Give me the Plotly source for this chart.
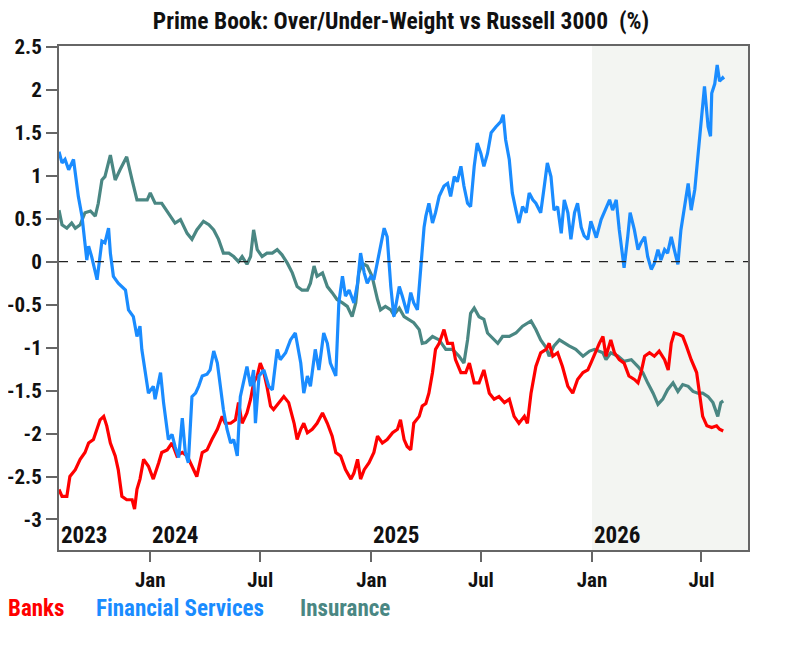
import plotly.graph_objects as go

# ---------------- data ----------------
fs_dates = ["2023-08-03","2023-08-08","2023-08-13","2023-08-19","2023-08-27","2023-08-30","2023-09-04","2023-09-10","2023-09-15","2023-09-18","2023-09-21","2023-09-26","2023-10-05","2023-10-13","2023-10-18","2023-10-24","2023-10-27","2023-11-01","2023-11-09","2023-11-21","2023-11-26","2023-12-04","2023-12-10","2023-12-15","2023-12-18","2023-12-24","2023-12-29","2024-01-06","2024-01-09","2024-01-18","2024-01-23","2024-01-31","2024-02-06","2024-02-11","2024-02-17","2024-02-23","2024-02-28","2024-03-04","2024-03-10","2024-03-16","2024-03-21","2024-03-27","2024-04-04","2024-04-09","2024-04-15","2024-04-21","2024-04-26","2024-05-01","2024-05-07","2024-05-13","2024-05-18","2024-05-24","2024-05-29","2024-06-04","2024-06-09","2024-06-15","2024-06-20","2024-06-23","2024-06-29","2024-07-07","2024-07-15","2024-07-21","2024-07-29","2024-08-03","2024-08-12","2024-08-20","2024-08-28","2024-09-06","2024-09-11","2024-09-17","2024-09-22","2024-09-30","2024-10-06","2024-10-14","2024-10-20","2024-10-25","2024-11-03","2024-11-08","2024-11-14","2024-11-19","2024-11-25","2024-12-03","2024-12-09","2024-12-14","2024-12-20","2024-12-25","2024-12-31","2025-01-05","2025-01-13","2025-01-22","2025-01-27","2025-02-02","2025-02-07","2025-02-16","2025-02-21","2025-03-01","2025-03-07","2025-03-12","2025-03-18","2025-03-24","2025-03-29","2025-04-01","2025-04-06","2025-04-12","2025-04-17","2025-04-23","2025-05-01","2025-05-07","2025-05-12","2025-05-18","2025-05-23","2025-05-29","2025-06-03","2025-06-09","2025-06-14","2025-06-20","2025-06-25","2025-07-01","2025-07-06","2025-07-12","2025-07-18","2025-07-26","2025-08-03","2025-08-07","2025-08-11","2025-08-17","2025-08-22","2025-08-28","2025-09-02","2025-09-08","2025-09-14","2025-09-19","2025-09-25","2025-09-30","2025-10-08","2025-10-14","2025-10-19","2025-10-25","2025-10-30","2025-11-05","2025-11-11","2025-11-16","2025-11-22","2025-11-27","2025-12-03","2025-12-08","2025-12-14","2025-12-19","2025-12-25","2025-12-30","2026-01-08","2026-01-16","2026-01-21","2026-01-30","2026-02-04","2026-02-10","2026-02-15","2026-02-21","2026-02-23","2026-03-01","2026-03-05","2026-03-12","2026-03-18","2026-03-23","2026-03-29","2026-04-03","2026-04-09","2026-04-14","2026-04-20","2026-04-25","2026-05-01","2026-05-06","2026-05-12","2026-05-17","2026-05-23","2026-05-28","2026-06-03","2026-06-09","2026-06-14","2026-06-20","2026-06-25","2026-07-01","2026-07-06","2026-07-12","2026-07-16","2026-07-18","2026-07-23","2026-07-27","2026-07-31","2026-08-05","2026-08-07"]
fs_values = [1.28,1.15,1.19,1.07,1.19,1.01,0.76,0.53,0.22,0.02,0.18,0.06,-0.21,0.24,0.22,0.39,0.10,-0.17,-0.25,-0.33,-0.56,-0.64,-0.87,-0.75,-1.02,-1.33,-1.53,-1.45,-1.60,-1.29,-1.64,-2.07,-2.01,-2.15,-2.28,-1.82,-2.22,-2.34,-1.57,-1.53,-1.45,-1.33,-1.31,-1.26,-1.04,-1.18,-1.45,-1.72,-1.95,-2.11,-2.07,-2.26,-1.57,-1.37,-1.22,-1.45,-1.26,-1.88,-1.33,-1.26,-1.45,-1.49,-1.02,-1.14,-1.06,-0.91,-0.83,-1.18,-1.53,-1.33,-1.45,-1.02,-1.26,-0.83,-0.95,-1.18,-1.33,-0.48,-0.17,-0.40,-0.33,-0.48,-0.25,0.10,-0.13,-0.25,-0.17,-0.21,0.06,0.39,0.29,-0.29,-0.64,-0.29,-0.40,-0.60,-0.36,-0.48,-0.56,0.00,0.40,0.53,0.68,0.45,0.57,0.76,0.88,0.91,0.76,0.99,0.93,1.11,0.88,0.68,0.64,1.11,1.38,1.26,1.11,1.26,1.50,1.57,1.63,1.71,1.42,1.19,0.80,0.60,0.45,0.64,0.57,0.80,0.72,0.68,0.57,0.88,1.15,0.99,0.60,0.64,0.33,0.72,0.57,0.26,0.57,0.68,0.40,0.30,0.26,0.47,0.28,0.49,0.58,0.72,0.60,0.72,0.37,-0.02,-0.07,0.29,0.57,0.37,0.14,0.22,0.29,0.06,-0.09,-0.02,0.14,0.02,0.14,0.10,0.29,0.14,-0.03,0.37,0.64,0.91,0.60,0.84,1.22,1.69,2.04,1.57,1.46,1.96,2.07,2.29,2.10,2.14,2.12]

ins_dates = ["2023-08-03","2023-08-08","2023-08-16","2023-08-24","2023-08-30","2023-09-07","2023-09-15","2023-09-24","2023-10-02","2023-10-07","2023-10-13","2023-10-18","2023-10-27","2023-11-04","2023-11-12","2023-11-23","2023-12-02","2023-12-10","2023-12-18","2023-12-27","2024-01-01","2024-01-09","2024-01-20","2024-01-31","2024-02-11","2024-02-20","2024-03-02","2024-03-10","2024-03-18","2024-03-29","2024-04-07","2024-04-15","2024-04-23","2024-05-01","2024-05-10","2024-05-18","2024-05-26","2024-06-01","2024-06-09","2024-06-15","2024-06-20","2024-06-26","2024-07-04","2024-07-12","2024-07-21","2024-07-29","2024-08-06","2024-08-15","2024-08-23","2024-08-31","2024-09-08","2024-09-17","2024-09-22","2024-09-28","2024-10-03","2024-10-12","2024-10-20","2024-10-28","2024-11-05","2024-11-14","2024-11-22","2024-11-30","2024-12-06","2024-12-11","2024-12-17","2024-12-25","2025-01-02","2025-01-11","2025-01-16","2025-01-24","2025-02-02","2025-02-07","2025-02-16","2025-02-24","2025-03-04","2025-03-12","2025-03-21","2025-03-26","2025-04-01","2025-04-12","2025-04-23","2025-05-04","2025-05-15","2025-05-26","2025-06-03","2025-06-09","2025-06-14","2025-06-20","2025-06-28","2025-07-06","2025-07-12","2025-07-20","2025-07-29","2025-08-06","2025-08-17","2025-08-28","2025-09-08","2025-09-22","2025-09-30","2025-10-08","2025-10-17","2025-10-22","2025-10-30","2025-11-08","2025-11-16","2025-11-24","2025-12-05","2025-12-17","2025-12-28","2026-01-05","2026-01-19","2026-01-24","2026-02-01","2026-02-13","2026-02-23","2026-03-07","2026-03-18","2026-03-26","2026-04-03","2026-04-12","2026-04-20","2026-04-28","2026-05-06","2026-05-15","2026-05-23","2026-05-31","2026-06-09","2026-06-17","2026-06-25","2026-07-03","2026-07-12","2026-07-20","2026-07-28","2026-08-02","2026-08-06"]
ins_values = [0.60,0.43,0.39,0.45,0.39,0.43,0.57,0.59,0.53,0.68,0.95,0.99,1.24,0.95,1.07,1.22,0.95,0.72,0.72,0.72,0.80,0.68,0.68,0.57,0.45,0.49,0.33,0.26,0.37,0.47,0.43,0.37,0.26,0.10,0.10,0.06,0.00,0.06,-0.03,0.06,0.37,0.14,0.06,0.10,0.10,0.14,0.08,-0.02,-0.13,-0.29,-0.33,-0.33,-0.25,-0.05,-0.17,-0.13,-0.29,-0.36,-0.44,-0.48,-0.52,-0.64,-0.48,-0.13,-0.02,-0.05,-0.17,-0.44,-0.56,-0.52,-0.56,-0.62,-0.54,-0.64,-0.67,-0.71,-0.79,-0.95,-0.94,-0.87,-0.91,-1.02,-1.02,-1.10,-1.18,-0.91,-0.60,-0.54,-0.64,-0.67,-0.83,-0.89,-0.95,-0.87,-0.87,-0.83,-0.75,-0.69,-0.79,-0.91,-1.00,-1.10,-0.98,-0.91,-0.95,-0.98,-1.02,-1.10,-1.04,-1.02,-1.06,-1.14,-1.06,-1.10,-1.16,-1.14,-1.22,-1.29,-1.41,-1.53,-1.66,-1.60,-1.49,-1.41,-1.51,-1.43,-1.45,-1.51,-1.53,-1.53,-1.57,-1.64,-1.80,-1.64,-1.62]

banks_dates = ["2023-08-03","2023-08-08","2023-08-16","2023-08-21","2023-08-30","2023-09-07","2023-09-15","2023-09-21","2023-09-29","2023-10-05","2023-10-10","2023-10-16","2023-10-21","2023-10-27","2023-11-04","2023-11-09","2023-11-15","2023-11-23","2023-12-02","2023-12-06","2023-12-10","2023-12-15","2023-12-21","2023-12-29","2024-01-06","2024-01-15","2024-01-20","2024-01-29","2024-02-06","2024-02-14","2024-02-23","2024-03-02","2024-03-10","2024-03-18","2024-03-27","2024-04-04","2024-04-12","2024-04-21","2024-04-29","2024-05-04","2024-05-13","2024-05-21","2024-05-26","2024-06-01","2024-06-09","2024-06-15","2024-06-20","2024-06-26","2024-07-01","2024-07-07","2024-07-12","2024-07-18","2024-07-23","2024-08-01","2024-08-09","2024-08-17","2024-08-26","2024-08-31","2024-09-06","2024-09-11","2024-09-17","2024-09-25","2024-10-03","2024-10-12","2024-10-20","2024-10-28","2024-11-03","2024-11-11","2024-11-19","2024-11-28","2024-12-03","2024-12-09","2024-12-14","2024-12-20","2024-12-28","2025-01-05","2025-01-11","2025-01-19","2025-01-27","2025-02-05","2025-02-13","2025-02-18","2025-02-24","2025-03-01","2025-03-07","2025-03-12","2025-03-21","2025-03-26","2025-04-01","2025-04-06","2025-04-12","2025-04-17","2025-04-23","2025-05-01","2025-05-07","2025-05-15","2025-05-20","2025-05-29","2025-06-06","2025-06-12","2025-06-20","2025-06-28","2025-07-06","2025-07-15","2025-07-23","2025-07-31","2025-08-09","2025-08-17","2025-08-25","2025-09-02","2025-09-11","2025-09-16","2025-09-22","2025-09-30","2025-10-08","2025-10-17","2025-10-22","2025-10-28","2025-11-05","2025-11-13","2025-11-22","2025-11-30","2025-12-08","2025-12-17","2025-12-25","2025-12-30","2026-01-08","2026-01-13","2026-01-19","2026-01-24","2026-02-01","2026-02-07","2026-02-15","2026-02-23","2026-03-03","2026-03-12","2026-03-18","2026-03-23","2026-03-29","2026-04-06","2026-04-14","2026-04-22","2026-05-01","2026-05-07","2026-05-12","2026-05-17","2026-05-26","2026-05-31","2026-06-06","2026-06-14","2026-06-23","2026-06-28","2026-07-03","2026-07-10","2026-07-18","2026-07-26","2026-07-31","2026-08-06"]
banks_values = [-2.65,-2.73,-2.73,-2.50,-2.42,-2.30,-2.22,-2.11,-2.07,-1.95,-1.84,-1.80,-1.91,-2.11,-2.26,-2.42,-2.73,-2.77,-2.77,-2.88,-2.65,-2.53,-2.30,-2.38,-2.53,-2.34,-2.22,-2.19,-2.11,-2.26,-2.22,-2.26,-2.38,-2.50,-2.22,-2.19,-2.07,-1.95,-1.80,-1.88,-1.88,-1.84,-1.64,-1.88,-1.76,-1.60,-1.41,-1.33,-1.18,-1.29,-1.45,-1.68,-1.72,-1.64,-1.57,-1.64,-1.88,-2.07,-1.95,-1.88,-1.99,-1.95,-1.88,-1.76,-1.88,-2.03,-2.22,-2.26,-2.42,-2.53,-2.46,-2.30,-2.53,-2.42,-2.34,-2.22,-2.03,-2.11,-2.07,-1.99,-1.95,-1.84,-2.07,-2.15,-2.19,-1.88,-1.80,-1.68,-1.65,-1.53,-1.29,-1.02,-0.95,-0.79,-0.95,-0.95,-1.14,-1.29,-1.29,-1.18,-1.41,-1.41,-1.26,-1.53,-1.60,-1.57,-1.64,-1.60,-1.80,-1.88,-1.80,-1.88,-1.53,-1.22,-1.06,-1.02,-0.95,-1.10,-1.06,-1.22,-1.45,-1.53,-1.37,-1.29,-1.26,-1.18,-1.02,-0.95,-0.87,-1.10,-0.91,-1.06,-1.14,-1.18,-1.33,-1.37,-1.41,-1.29,-1.10,-1.06,-1.10,-1.04,-1.14,-1.26,-0.95,-0.83,-0.85,-0.87,-0.98,-1.14,-1.29,-1.53,-1.80,-1.91,-1.93,-1.91,-1.95,-1.97]

series_names = ["Banks", "Financial Services", "Insurance"]
series_colors = ["#ff0000", "#1a8cff", "#4a8783"]

x_range = ["2023-08-03", "2026-09-16"]
shade_start = "2026-01-01"
x_tick_vals = ["2024-01-01", "2024-07-01", "2025-01-01", "2025-07-01", "2026-01-01", "2026-07-01"]
x_tick_text = ["Jan", "Jul", "Jan", "Jul", "Jan", "Jul"]
year_labels = ["2023", "2024", "2025", "2026"]
year_label_dates = ["2023-08-03", "2024-01-01", "2025-01-01", "2026-01-01"]
y_tick_vals = [2.5, 2, 1.5, 1, 0.5, 0, -0.5, -1, -1.5, -2, -2.5, -3]
y_tick_text = ["2.5", "2", "1.5", "1", "0.5", "0", "-0.5", "-1", "-1.5", "-2", "-2.5", "-3"]
y_range = [-3.355, 2.51]

title_text = "Prime Book: Over/Under-Weight vs Russell 3000 \u00a0(%)"

FONT = "Roboto Condensed, Liberation Sans Narrow, Roboto, sans-serif"
FIG_W, FIG_H = 786, 640   # page body adds an 8px margin

# ---------------- figure ----------------
fig = go.Figure()
data = [(banks_dates, banks_values), (fs_dates, fs_values), (ins_dates, ins_values)]
for idx in [2, 0, 1]:
    d, v = data[idx]
    fig.add_trace(go.Scatter(x=d, y=v, mode="lines", name=series_names[idx],
                             line=dict(color=series_colors[idx], width=3.2),
                             hoverinfo="skip"))

fig.add_vrect(x0=shade_start, x1=x_range[1], fillcolor="#f3f5f2", line_width=0, layer="below")
fig.add_hline(y=0, line=dict(color="#222222", width=1.2, dash="dash"), layer="above")

annotations = []
for lab, dt in zip(year_labels, year_label_dates):
    annotations.append(dict(x=dt, y=0.028, xref="x", yref="paper", text="<b>" + lab + "</b>",
                            showarrow=False, xanchor="left", yanchor="middle", xshift=0,
                            font=dict(family=FONT, size=23, color="#111111")))
legend_x = [-0.074, 0.0537, 0.350]
for name, col, lx in zip(series_names, series_colors, legend_x):
    annotations.append(dict(x=lx, y=-0.116, xref="paper", yref="paper", text="<b>" + name + "</b>",
                            showarrow=False, xanchor="left", yanchor="middle", xshift=-2,
                            font=dict(family=FONT, size=23, color=col)))

fig.update_layout(
    width=FIG_W, height=FIG_H,
    margin=dict(l=51, r=46, t=38, b=98),
    paper_bgcolor="white", plot_bgcolor="white",
    showlegend=False,
    title=dict(text="<b>" + title_text + "</b>", x=0.5, xref="container", xanchor="center",
               y=1 - 13 / FIG_H, yref="container", yanchor="middle",
               font=dict(family=FONT, size=23.5, color="#111111")),
    annotations=annotations,
    font=dict(family=FONT, color="#111111"),
)
fig.update_xaxes(range=x_range, tickvals=x_tick_vals, ticktext=["<b>" + t + "</b>" for t in x_tick_text],
                 ticks="outside", ticklen=10, tickwidth=1.5, tickcolor="#666666",
                 showline=True, linecolor="#666666", linewidth=2, mirror=True,
                 showgrid=False, zeroline=False, automargin=False,
                 tickfont=dict(family=FONT, size=21, color="#111111"))
fig.update_yaxes(range=y_range, tickvals=y_tick_vals, ticktext=["<b>" + t + "</b>" for t in y_tick_text],
                 ticks="outside", ticklen=11, tickwidth=1.5, tickcolor="#666666",
                 showline=True, linecolor="#666666", linewidth=2, mirror=True,
                 showgrid=False, zeroline=False, automargin=False,
                 tickfont=dict(family=FONT, size=21, color="#111111"))

fig.write_html("out.html")
